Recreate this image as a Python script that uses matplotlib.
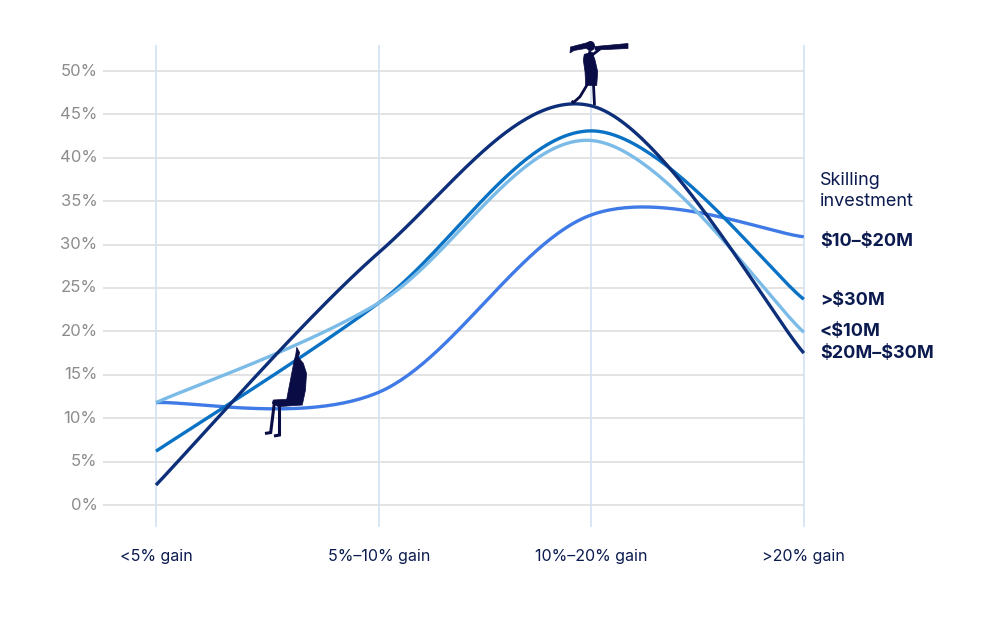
import numpy as np
import matplotlib.pyplot as plt
from matplotlib.patches import Polygon, Ellipse

plt.rcParams['font.family'] = ['Inter', 'DejaVu Sans']

categories = ['<5% gain', '5%\u201310% gain', '10%\u201320% gain', '>20% gain']
series_names = ['\\$10\u2013\\$20M', '>\\$30M', '<\\$10M', '\\$20M\u2013\\$30M']
v_10_20 = [11.8, 13.0, 33.4, 30.9]
v_over30 = [6.2, 23.3, 43.1, 23.7]
v_under10 = [11.8, 23.3, 42.0, 19.9]
v_20_30 = [2.3, 29.1, 46.0, 17.5]
yticks = [0, 5, 10, 15, 20, 25, 30, 35, 40, 45, 50]

# category positions along x (slightly uneven in the original)
xpos = np.array([0.0, 1.0, 1.95, 2.905])
colors = ['#3f7ae6', '#0a72c4', '#7bbbe8', '#0d2f7a']
label_y = [30.4, 23.6, 20.0, 17.4]
text_col = '#0b1a4f'
fig_col = '#0a0c45'


def cardinal(x, y, steps=60):
    # catmull-rom style curve through the points (bezier segments)
    pts = np.column_stack([x, y]).astype(float)
    n = len(pts)
    t = np.linspace(0, 1, steps)[:, None]
    out = []
    for i in range(n - 1):
        p0 = pts[max(i - 1, 0)]
        p1 = pts[i]
        p2 = pts[i + 1]
        p3 = pts[min(i + 2, n - 1)]
        c1 = p1 + (p2 - p0) / 6
        c2 = p2 - (p3 - p1) / 6
        seg = ((1 - t) ** 3) * p1 + 3 * ((1 - t) ** 2) * t * c1 \
            + 3 * (1 - t) * t ** 2 * c2 + t ** 3 * p2
        out.append(seg if i == 0 else seg[1:])
    out = np.vstack(out)
    return out[:, 0], out[:, 1]


def fpx(pts):
    # pixel coords (top-left origin) -> figure fraction
    return [(px / 1000, 1 - py / 624) for px, py in pts]


fig = plt.figure(figsize=(10, 6.24), dpi=100)
# axes in pixel terms: left 100px, right 830px, top 45px, bottom 527px
ax = fig.add_axes([0.100, (624 - 527) / 624, 0.730, (527 - 45) / 624])
ax.set_xlim((100 - 156) / 223, (830 - 156) / 223)
ax.set_ylim((505 - 527) / 8.68, (505 - 45) / 8.68)
ax.axis('off')

x_left = (103 - 156) / 223
for yv in yticks:
    ax.hlines(yv, x_left, xpos[-1], color='#dedede', lw=1.2, zorder=1)
    ax.text(x_left - 0.025, yv, f'{yv}%', ha='right', va='center',
            fontsize=12, color='#8c8c8c')
for xv in xpos:
    ax.axvline(xv, color='#d3e2f3', lw=1.2, zorder=1)

all_vals = [v_10_20, v_over30, v_under10, v_20_30]
for k, vals in enumerate(all_vals):
    cx, cy = cardinal(xpos, vals)
    ax.plot(cx, cy, color=colors[k], lw=2.4, zorder=3 + k,
            solid_capstyle='butt', clip_on=False)

for xv, lab in zip(xpos, categories):
    ax.text(xv, (505 - 557) / 8.68, lab, ha='center', va='center',
            fontsize=11.5, color=text_col)

lx = xpos[-1] + 0.072
ax.text(lx, 36.2, 'Skilling\ninvestment', ha='left', va='center',
        fontsize=13, color=text_col, linespacing=1.3)
for name, ly in zip(series_names, label_y):
    ax.text(lx, ly, name, ha='left', va='center', fontsize=13,
            fontweight='bold', color=text_col)

# --- silhouettes (decorative) ---
tf = fig.transFigure
# seated man on the $10-$20M curve
man = [(296.7, 347.3), (299.7, 352.7), (298.3, 357.3), (303.3, 363.3),
       (306.5, 373.3), (305.5, 390), (302.3, 405), (278.3, 406.7),
       (272.3, 403.3), (273.3, 400), (286.7, 399.3), (294.3, 360),
       (295.7, 355)]
fig.patches.append(Polygon(fpx(man), closed=True, fc=fig_col, ec=fig_col,
                           lw=0.5, transform=tf, zorder=10))
for leg in ([(274.5, 401.7), (270.7, 432.5), (265, 433.5)],
            [(279.5, 406), (279.5, 435), (274, 436)]):
    xs_, ys_ = zip(*fpx(leg))
    fig.add_artist(plt.Line2D(xs_, ys_, color=fig_col, lw=2.2,
                              transform=tf, solid_joinstyle='miter',
                              solid_capstyle='butt'))

# woman with telescope on top of the peak
dress = [(584.3, 54.3), (592.3, 52.3), (595, 60), (597.7, 71.7),
         (596.7, 85.5), (585.7, 85.5), (585, 71.7), (583.3, 60)]
fig.patches.append(Polygon(fpx(dress), closed=True, fc=fig_col, ec=fig_col,
                           lw=0.5, transform=tf, zorder=10))
scope = [(595, 46.5), (628, 43.5), (628, 48.5), (595, 50)]
fig.patches.append(Polygon(fpx(scope), closed=True, fc=fig_col, ec=fig_col,
                           lw=0.5, transform=tf, zorder=10))
hair = [(588, 42.5), (570.5, 47), (570, 53), (574, 50.5), (588, 48)]
fig.patches.append(Polygon(fpx(hair), closed=True, fc=fig_col, ec=fig_col,
                           lw=0.5, transform=tf, zorder=10))
hx, hy = fpx([(590.5, 46)])[0]
fig.patches.append(Ellipse((hx, hy), 9 / 1000, 10 / 624, fc=fig_col,
                           ec='none', transform=tf, zorder=10))
for limb in ([(591, 56), (600, 49)],
             [(590, 51), (589, 55)],
             [(587, 85), (580, 96.7), (573.5, 102.5), (571.5, 101)],
             [(593.5, 85), (594.5, 105)]):
    xs_, ys_ = zip(*fpx(limb))
    fig.add_artist(plt.Line2D(xs_, ys_, color=fig_col, lw=2.0,
                              transform=tf, solid_capstyle='butt'))

fig.savefig('out.png', dpi=100)
